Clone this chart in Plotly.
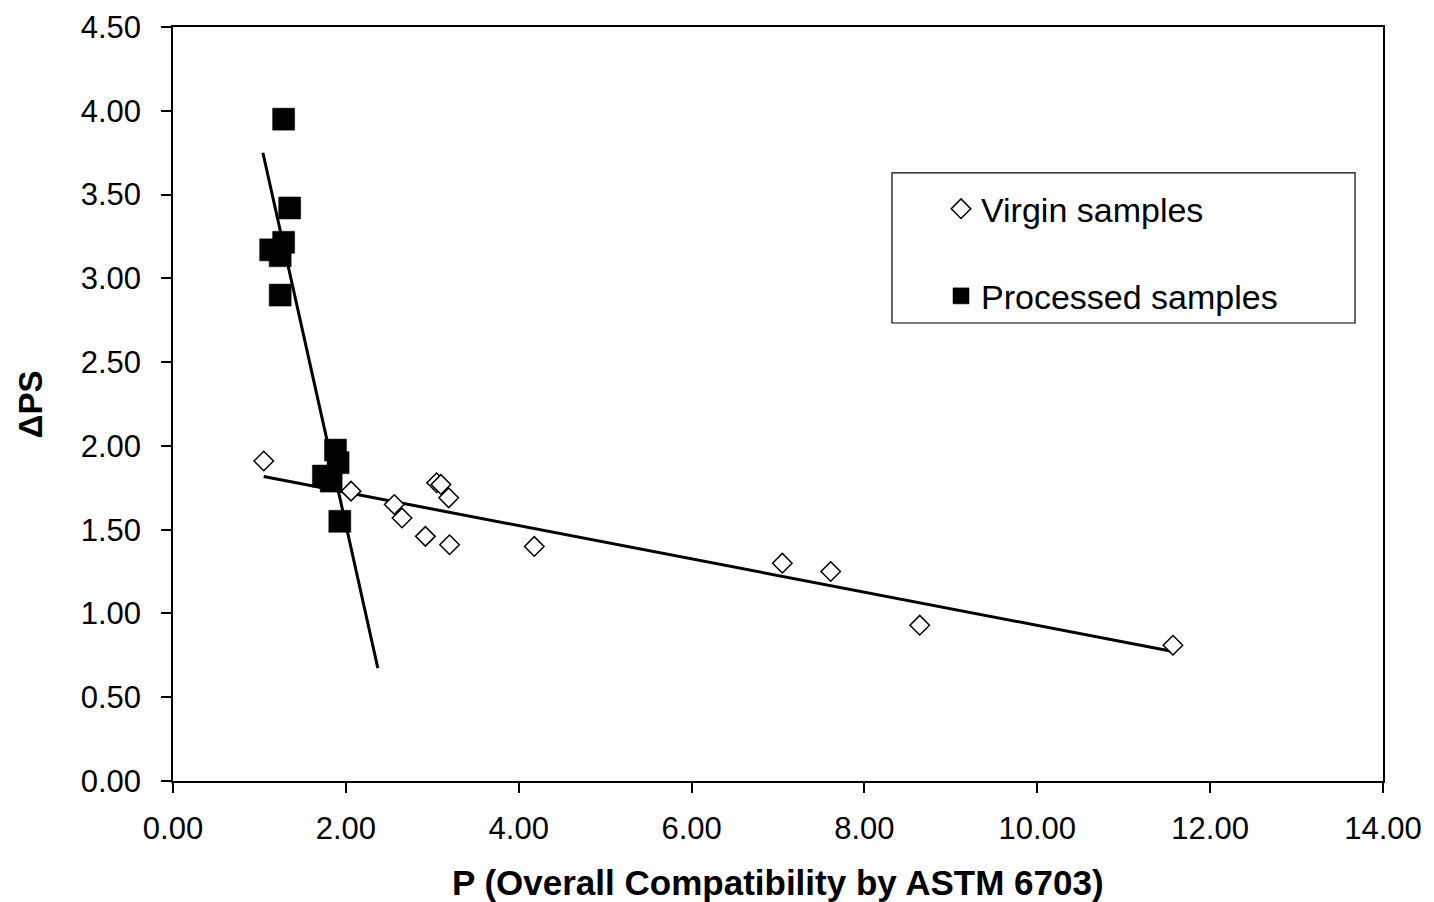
import numpy as np
import plotly.graph_objects as go

# Virgin samples
virgin_x = [1.05, 2.06, 2.56, 2.65, 2.92, 3.05, 3.10, 3.19, 3.20, 4.18, 7.05, 7.61, 8.64, 11.57]
virgin_y = [1.91, 1.73, 1.65, 1.57, 1.46, 1.78, 1.77, 1.69, 1.41, 1.40, 1.30, 1.25, 0.93, 0.81]

# Processed samples
proc_x = [1.28, 1.35, 1.28, 1.13, 1.24, 1.24, 1.88, 1.91, 1.74, 1.83, 1.93]
proc_y = [3.95, 3.42, 3.215, 3.17, 3.135, 2.90, 1.975, 1.90, 1.82, 1.79, 1.55]

# Trendline extents
virgin_fit_x = [1.05, 11.57]
proc_fit_x = [1.04, 2.37]

x_ticks = [0, 2, 4, 6, 8, 10, 12, 14]
y_ticks = [0, 0.5, 1, 1.5, 2, 2.5, 3, 3.5, 4, 4.5]

x_title = "P (Overall Compatibility by ASTM 6703)"
y_title = "ΔPS"

FONT = "Liberation Sans, Arial, sans-serif"

vc = np.polyfit(virgin_x, virgin_y, 1)
pc = np.polyfit(proc_x, proc_y, 1)

fig = go.Figure()
fig.add_trace(go.Scatter(
    x=virgin_fit_x, y=list(np.polyval(vc, virgin_fit_x)), mode="lines",
    line=dict(color="black", width=3), showlegend=False, hoverinfo="skip"))
fig.add_trace(go.Scatter(
    x=proc_fit_x, y=list(np.polyval(pc, proc_fit_x)), mode="lines",
    line=dict(color="black", width=3), showlegend=False, hoverinfo="skip"))
fig.add_trace(go.Scatter(
    x=virgin_x, y=virgin_y, mode="markers", name="Virgin samples",
    legendgroup="v",
    marker=dict(symbol="diamond", size=15, color="white",
                line=dict(color="black", width=1.5))))
fig.add_trace(go.Scatter(
    x=proc_x, y=proc_y, mode="markers", name="Processed samples",
    legendgroup="p",
    marker=dict(symbol="square", size=22, color="black",
                line=dict(color="black", width=0.5))))

axis_common = dict(
    showgrid=False, zeroline=False, showline=True, linecolor="black",
    linewidth=1.5, ticks="outside", ticklen=10, tickwidth=1.5,
    tickcolor="black", mirror=True,
    tickfont=dict(family=FONT, size=31, color="black"),
)

fig.update_xaxes(
    range=[0, 14], tickvals=x_ticks, ticktext=[f"{v:.2f}" for v in x_ticks],
    ticklabelstandoff=9, **axis_common)
fig.update_yaxes(
    range=[0, 4.5], tickvals=y_ticks, ticktext=[f"{v:.2f}" for v in y_ticks],
    ticklabelstandoff=14, **axis_common)

fig.add_annotation(
    text=f"<b>{x_title}</b>", xref="paper", yref="paper",
    x=0.5, y=-0.135, xanchor="center", yanchor="middle", showarrow=False,
    font=dict(family=FONT, size=35, color="black"))
fig.add_annotation(
    text=f"<b>{y_title}</b>", xref="paper", yref="paper",
    x=-0.118, y=0.5, xanchor="center", yanchor="middle", showarrow=False,
    textangle=-90, font=dict(family=FONT, size=33, color="black"))

fig.add_shape(type="rect", xref="paper", yref="paper",
              x0=0.5942, x1=0.9769, y0=0.6074, y1=0.8064,
              line=dict(color="black", width=1.2), fillcolor="rgba(0,0,0,0)")

fig.update_layout(
    width=1434, height=902,
    margin=dict(l=173, r=51, t=27, b=121, autoexpand=False),
    plot_bgcolor="white", paper_bgcolor="white",
    font=dict(family=FONT, color="black"),
    legend=dict(x=0.6347, y=0.797, xanchor="left", yanchor="top",
                bgcolor="rgba(0,0,0,0)", borderwidth=0,
                font=dict(family=FONT, size=34, color="black"),
                tracegroupgap=40),
)

fig.write_html("out.html")
